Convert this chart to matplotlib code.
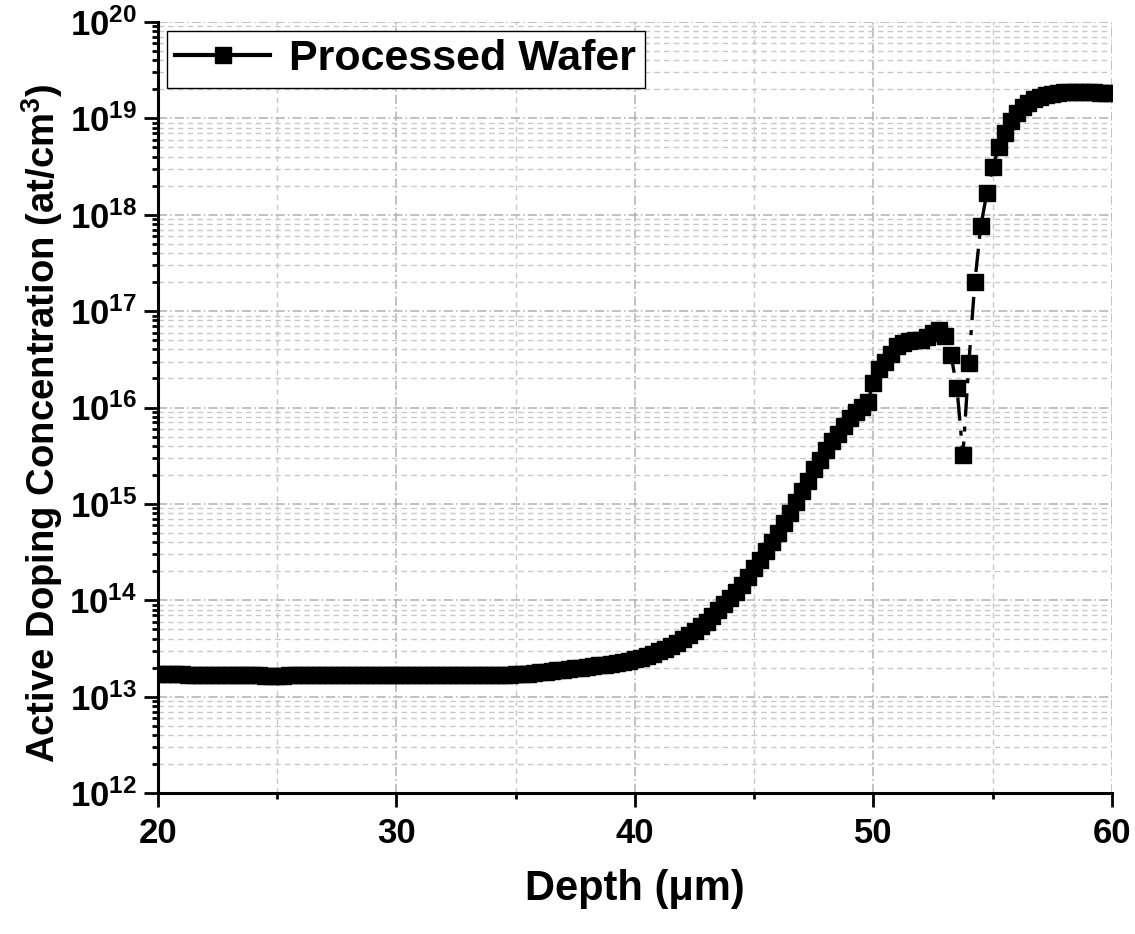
import numpy as np
import matplotlib
matplotlib.use("Agg")
import matplotlib.pyplot as plt
from matplotlib.lines import Line2D
from matplotlib.ticker import LogLocator, MultipleLocator, NullFormatter

plt.rcParams['font.family'] = ['Liberation Sans', 'DejaVu Sans']
plt.rcParams['font.weight'] = 'bold'
plt.rcParams['mathtext.fontset'] = 'custom'
plt.rcParams['mathtext.rm'] = 'Liberation Sans:bold'
plt.rcParams['mathtext.it'] = 'Liberation Sans:bold'
plt.rcParams['mathtext.bf'] = 'Liberation Sans:bold'

# depth grid (um), one point every 0.25 um
depth = np.arange(20.0, 60.001, 0.25)

# active doping concentration (at/cm^3)
conc = [
    1.72e13, 1.72e13, 1.70e13, 1.70e13,   # 20
    1.70e13, 1.69e13, 1.69e13, 1.68e13,   # 21
    1.68e13, 1.68e13, 1.67e13, 1.67e13,   # 22
    1.67e13, 1.67e13, 1.66e13, 1.66e13,   # 23
    1.66e13, 1.66e13, 1.65e13, 1.65e13,   # 24
    1.65e13, 1.65e13, 1.66e13, 1.66e13,   # 25
    1.67e13, 1.67e13, 1.67e13, 1.67e13,   # 26
    1.67e13, 1.67e13, 1.66e13, 1.66e13,   # 27
    1.66e13, 1.66e13, 1.66e13, 1.66e13,   # 28
    1.66e13, 1.66e13, 1.66e13, 1.66e13,   # 29
    1.66e13, 1.66e13, 1.67e13, 1.67e13,   # 30
    1.67e13, 1.67e13, 1.68e13, 1.68e13,   # 31
    1.68e13, 1.68e13, 1.69e13, 1.69e13,   # 32
    1.69e13, 1.69e13, 1.69e13, 1.69e13,   # 33
    1.68e13, 1.68e13, 1.68e13, 1.69e13,   # 34
    1.70e13, 1.71e13, 1.73e13, 1.75e13,   # 35
    1.78e13, 1.81e13, 1.84e13, 1.87e13,   # 36
    1.90e13, 1.93e13, 1.96e13, 1.99e13,   # 37
    2.03e13, 2.07e13, 2.11e13, 2.15e13,   # 38
    2.20e13, 2.25e13, 2.30e13, 2.36e13,   # 39
    2.43e13, 2.52e13, 2.64e13, 2.78e13,   # 40
    2.95e13, 3.14e13, 3.35e13, 3.62e13,   # 41
    3.95e13, 4.40e13, 4.85e13, 5.35e13,   # 42
    6.00e13, 6.90e13, 7.90e13, 9.10e13,   # 43
    1.05e14, 1.23e14, 1.45e14, 1.74e14,   # 44
    2.14e14, 2.63e14, 3.24e14, 3.98e14,   # 45
    5.01e14, 6.31e14, 8.13e14, 1.05e15,   # 46
    1.35e15, 1.74e15, 2.29e15, 2.88e15,   # 47
    3.63e15, 4.47e15, 5.37e15, 6.46e15,   # 48
    7.76e15, 8.91e15, 1.02e16, 1.15e16,   # 49
    1.80e16, 2.50e16, 3.00e16, 3.60e16,   # 50
    4.30e16, 4.70e16, 4.90e16, 5.00e16,   # 51
    5.00e16, 5.40e16, 6.00e16, 6.40e16,   # 52
    5.50e16, 3.50e16, 1.60e16, 3.20e15,   # 53
    2.90e16, 2.00e17, 7.60e17, 1.67e18,   # 54
    3.10e18, 5.00e18, 7.00e18, 9.50e18,   # 55
    1.15e19, 1.30e19, 1.45e19, 1.58e19,   # 56
    1.68e19, 1.75e19, 1.80e19, 1.84e19,   # 57
    1.87e19, 1.89e19, 1.90e19, 1.90e19,   # 58
    1.89e19, 1.87e19, 1.85e19, 1.83e19,   # 59
    1.82e19,                              # 60
]

fig = plt.figure(figsize=(11.35, 9.34), dpi=100)
ax = fig.add_axes([0.1392, 0.151, 0.8405, 0.8254])

ax.plot(depth, conc, color='black', lw=2.4, ls=(0, (7, 3, 1.5, 3)),
        marker='s', ms=12, mfc='black', mec='black')

ax.set_yscale('log')
ax.set_xlim(20, 60)
ax.set_ylim(1e12, 1e20)

ax.xaxis.set_major_locator(MultipleLocator(10))
ax.xaxis.set_minor_locator(MultipleLocator(5))
ax.yaxis.set_major_locator(LogLocator(base=10, numticks=20))
ax.yaxis.set_minor_locator(LogLocator(base=10, subs=np.arange(2, 10), numticks=20))
ax.yaxis.set_minor_formatter(NullFormatter())
ax.xaxis.set_minor_formatter(NullFormatter())

ax.grid(which='major', color='#b0b0b0', ls=(0, (6, 2, 1, 2)), lw=1.1)
ax.grid(which='minor', color='#c8c8c8', ls=(0, (4, 3)), lw=1.0)
ax.set_axisbelow(True)

for s in ['top', 'right']:
    ax.spines[s].set_visible(False)
for s in ['left', 'bottom']:
    ax.spines[s].set_linewidth(2.2)

ax.tick_params(which='major', direction='out', length=10, width=2)
ax.tick_params(which='minor', direction='out', length=4.5, width=2)
ax.tick_params(axis='x', which='major', labelsize=25, pad=7)
ax.tick_params(axis='y', which='major', labelsize=25, pad=5)

ax.set_xlabel('Depth (μm)', fontsize=30, fontweight='bold', labelpad=14)
ax.set_ylabel('Active Doping Concentration (at/cm$^3$)', fontsize=27.5,
              fontweight='bold')
ax.yaxis.set_label_coords(-0.097, 0.48)

handle = Line2D([], [], color='black', lw=3, ls='-', marker='s', ms=12)
leg = ax.legend([handle], ['Processed Wafer'], loc='upper left',
                frameon=True, fancybox=False, framealpha=1,
                edgecolor='black', borderaxespad=0.2, handlelength=2.2,
                handletextpad=0.45, borderpad=0.2,
                prop={'weight': 'bold', 'size': 31})
leg.get_frame().set_linewidth(1.0)

fig.savefig('out.png', dpi=100)
